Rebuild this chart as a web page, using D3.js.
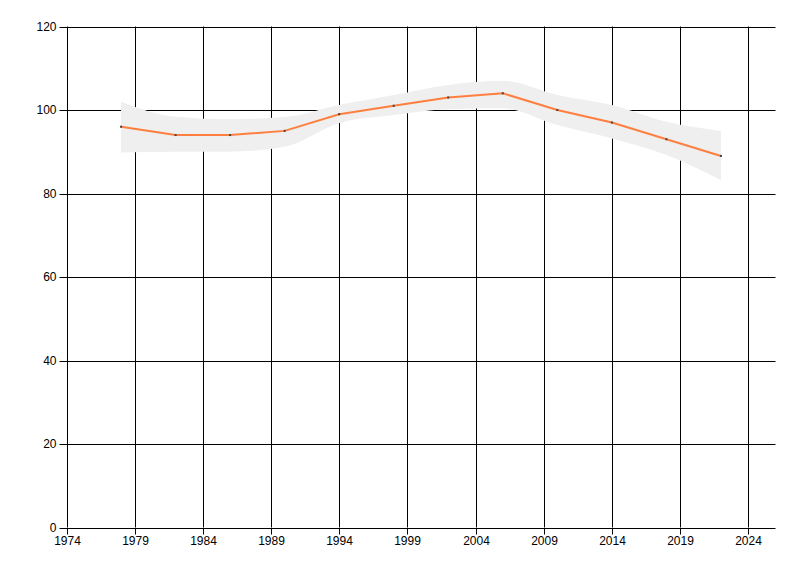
<!DOCTYPE html>
<html><head><meta charset="utf-8">
<script src="https://cdn.jsdelivr.net/npm/d3@7"></script>
<style>body{margin:0;background:#fff}svg{display:block}</style>
</head><body><svg id="c" width="800" height="576"></svg>
<script>
const years = [1978,1982,1986,1990,1994,1998,2002,2006,2010,2014,2018,2022];
const values = [96,94,94,95,99,101,103,104,100,97,93,89];
const upper = [102,98.4,97.8,98.3,101.2,103.6,106,107,103.6,101.2,97.2,95];
const lower = [89.8,90,90,91.2,96.9,98.8,100.2,100.4,96.4,93.2,89.2,83.2];
const xTicks = [1974,1979,1984,1989,1994,1999,2004,2009,2014,2019,2024];
const yTicks = [0,20,40,60,80,100,120];

const svg = d3.select("#c");
const x = d3.scaleLinear().domain([1974,2026]).range([66.5,775.5]);
const y = d3.scaleLinear().domain([0,120]).range([527.5,26.5]);
const font = "'Liberation Sans', Arial, sans-serif";

// grid
svg.append("g").selectAll("line").data(xTicks).join("line")
  .attr("x1",d=>Math.round(x(d))+0.5).attr("x2",d=>Math.round(x(d))+0.5)
  .attr("y1",y(120)).attr("y2",y(0)).attr("stroke","#000");
svg.append("g").selectAll("line").data(yTicks).join("line")
  .attr("x1",x(1974)).attr("x2",x(2026))
  .attr("y1",d=>Math.round(y(d))+0.5).attr("y2",d=>Math.round(y(d))+0.5).attr("stroke","#000");

// band
const area = d3.area().x((d,i)=>x(years[i])).y0((d,i)=>y(lower[i])).y1((d,i)=>y(upper[i])).curve(d3.curveMonotoneX);
svg.append("path").datum(years).attr("d",area).attr("fill","#efefef");

// line
const line = d3.line().x((d,i)=>x(years[i])).y(d=>y(d));
svg.append("path").datum(values).attr("d",line).attr("fill","none").attr("stroke","#ff7f3f").attr("stroke-width",2);
svg.append("g").selectAll("rect").data(values).join("rect")
  .attr("x",(d,i)=>x(years[i])-1).attr("y",d=>y(d)-1).attr("width",2).attr("height",2).attr("fill","#444");

// axes
const yAxis = d3.axisLeft(y).tickValues(yTicks).tickSize(8).tickPadding(3).tickFormat(d3.format("d"));
const gy = svg.append("g").attr("transform",`translate(${Math.round(x(1974))+0.5},0.5)`).call(yAxis);
gy.select(".domain").remove();
gy.selectAll("line").attr("stroke","#000");
gy.selectAll("text").attr("font-family",font).attr("font-size",12).attr("fill","#000");
gy.selectAll(".tick").attr("transform",d=>`translate(0,${Math.round(y(d))})`);

const xAxis = d3.axisBottom(x).tickValues(xTicks).tickSize(6).tickPadding(2).tickFormat(d3.format("d"));
const gx = svg.append("g").attr("transform",`translate(0.5,${Math.round(y(0))+0.5})`).call(xAxis);
gx.select(".domain").remove();
gx.selectAll(".tick").attr("transform",d=>`translate(${Math.round(x(d))},0)`);
gx.selectAll("line").attr("stroke","#000");
gx.selectAll("text").attr("font-family",font).attr("font-size",12).attr("fill","#000");
</script></body></html>
